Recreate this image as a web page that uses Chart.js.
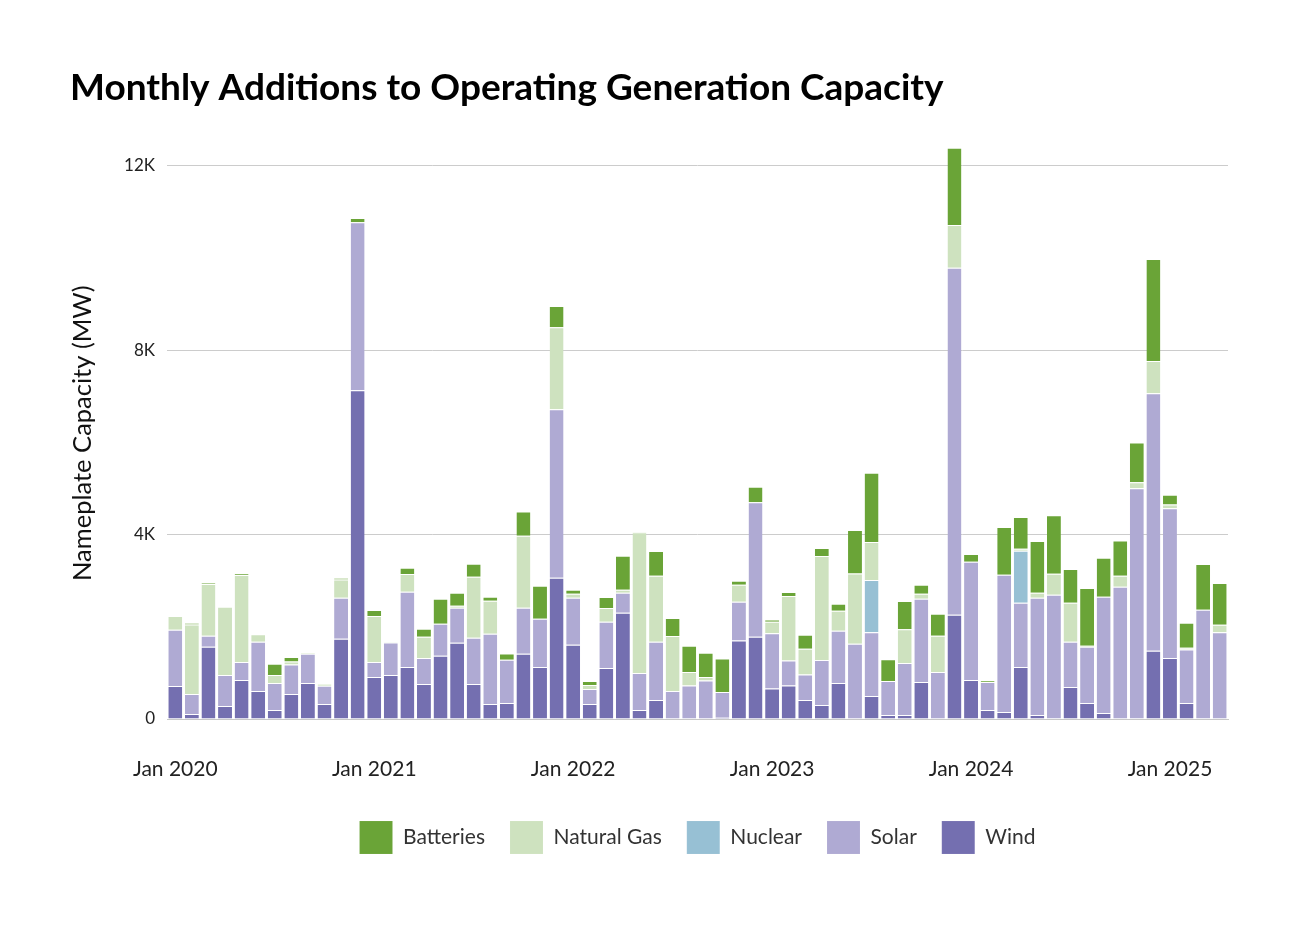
<!DOCTYPE html>
<html>
<head>
<meta charset="utf-8">
<script src="https://cdn.jsdelivr.net/npm/chart.js@4"></script>
<style>
  body { margin: 0; background: #fff; }
  canvas { display: block; }
</style>
</head>
<body>
<canvas id="capacityChart" width="1302" height="929"></canvas>
<script>
// months Jan 2020 .. Apr 2025
const years = [2020, 2021, 2022, 2023, 2024, 2025];
const monthNames = ['Jan', 'Feb', 'Mar', 'Apr', 'May', 'Jun', 'Jul', 'Aug', 'Sep', 'Oct', 'Nov', 'Dec'];
const months = [];
years.forEach(y => monthNames.forEach(m => months.push(m + ' ' + y)));
months.length = 64;

// MW added per month
const wind = [
    717, 109, 1565, 283, 848, 609, 196, 543, 783, 326, 1739, 7130,
    913, 957, 1130, 761, 1370, 1652, 761, 326, 348, 1413, 1130, 3065,
    1609, 326, 1109, 2304, 196, 413, 0, 0, 0, 29, 1703, 1783,
    659, 725, 413, 304, 783, 0, 500, 87, 87, 804, 0, 2261,
    848, 196, 152, 1130, 87, 22, 696, 348, 130, 0, 22, 1478,
    1326, 348, 22, 0,
];
const solar = [
    1217, 435, 239, 674, 391, 1065, 587, 637, 630, 398, 891, 3646,
    326, 703, 1630, 565, 696, 761, 1000, 1522, 935, 1000, 1043, 3652,
    1022, 326, 1000, 435, 804, 1261, 609, 725, 833, 558, 841, 2920,
    1203, 543, 551, 978, 1130, 1630, 1384, 739, 1130, 1804, 1022, 7528,
    2565, 609, 2978, 1391, 2543, 2674, 978, 1217, 2522, 2870, 4985, 5587,
    3246, 1159, 2348, 1884,
];
const nuclear = [
    0, 0, 0, 0, 0, 0, 0, 0, 0, 0, 0, 0,
    0, 0, 0, 0, 0, 0, 0, 0, 0, 0, 0, 0,
    0, 0, 0, 0, 0, 0, 0, 0, 0, 0, 0, 0,
    0, 0, 0, 0, 0, 0, 1130, 0, 0, 0, 0, 0,
    0, 0, 0, 1130, 0, 0, 0, 0, 0, 0, 0, 0,
    0, 0, 0, 0,
];
const naturalGas = [
    298, 1507, 1123, 1478, 1884, 167, 174, 65, 22, 22, 398, 0,
    993, 15, 384, 457, 0, 43, 1326, 717, 0, 1565, 0, 1783,
    87, 87, 298, 65, 3051, 1435, 1189, 297, 80, 0, 370, 0,
    246, 1399, 558, 2254, 435, 1529, 826, 0, 732, 109, 783, 928,
    0, 0, 0, 43, 109, 457, 848, 22, 0, 239, 130, 703,
    80, 36, 0, 159,
];
const batteries = [
    0, 36, 29, 0, 29, 0, 239, 102, 0, 15, 29, 94,
    130, 0, 138, 174, 543, 283, 283, 87, 137, 522, 717, 457,
    87, 87, 239, 739, 15, 537, 391, 565, 522, 725, 87, 335,
    51, 87, 304, 174, 152, 942, 1500, 471, 609, 196, 478, 1674,
    167, 29, 1037, 689, 1123, 1268, 732, 1254, 848, 761, 863, 2210,
    211, 543, 993, 906,
];

const yTicks = [0, 4000, 8000, 12000];

const fontFamily = 'Lato, "Noto Sans", sans-serif';

function bars(label, data, color) {
    return {
        label: label,
        data: data,
        backgroundColor: color,
        borderColor: 'rgba(255, 255, 255, 0.35)',
        borderWidth: { top: 1 },
        categoryPercentage: 1,
        barPercentage: 0.84,
    };
}

// keep the legend centred under the plot, not the whole canvas
const centerLegend = {
    id: 'centerLegend',
    afterLayout(chart) {
        const legend = chart.legend;
        const mid = (chart.chartArea.left + chart.chartArea.right) / 2;
        const shift = mid - (legend.left + legend.right) / 2;
        legend.left += shift;
        legend.right += shift;
    },
};

const ctx = document.getElementById('capacityChart').getContext('2d');
new Chart(ctx, {
    type: 'bar',
    data: {
        labels: months,
        datasets: [
            bars('Wind', wind, '#746fb0'),
            bars('Solar', solar, '#afaad3'),
            bars('Nuclear', nuclear, '#97c0d4'),
            bars('Natural Gas', naturalGas, '#cee2bf'),
            bars('Batteries', batteries, '#6aa437'),
        ],
    },
    plugins: [centerLegend],
    options: {
        responsive: false,
        animation: false,
        layout: {
            padding: { left: 70, right: 74, top: 66, bottom: 65 },
        },
        scales: {
            x: {
                stacked: true,
                grid: { display: false, drawTicks: false },
                border: { color: '#c8c8c8' },
                afterFit: axis => { axis.height = 77; },
                ticks: {
                    autoSkip: false,
                    maxRotation: 0,
                    padding: 38,
                    color: '#222',
                    font: { family: fontFamily, size: 21 },
                    callback: (v, i) => (i % 12 === 0 ? months[i] : ''),
                },
            },
            y: {
                stacked: true,
                min: 0,
                max: 12400,
                afterBuildTicks: axis => {
                    axis.ticks = yTicks.map(v => ({ value: v }));
                },
                afterFit: axis => { axis.width = 97; },
                grid: { color: '#cccccc', drawTicks: false },
                border: { display: false },
                ticks: {
                    padding: 12,
                    color: '#222',
                    font: { family: fontFamily, size: 17 },
                    callback: v => (v === 0 ? '0' : v / 1000 + 'K'),
                },
                title: {
                    display: true,
                    text: 'Nameplate Capacity (MW)',
                    color: '#111',
                    font: { family: fontFamily, size: 25.5, lineHeight: 1 },
                    padding: { top: 0, bottom: 0 },
                },
            },
        },
        plugins: {
            title: {
                display: true,
                text: 'Monthly Additions to Operating Generation Capacity',
                align: 'start',
                color: '#000',
                font: { family: fontFamily, size: 37, weight: 'bold' },
                padding: { top: 0, bottom: 37 },
            },
            legend: {
                position: 'bottom',
                reverse: true,
                labels: {
                    boxWidth: 33,
                    boxHeight: 33,
                    padding: 25,
                    color: '#333',
                    font: { family: fontFamily, size: 21 },
                },
            },
            tooltip: { enabled: false },
        },
    },
});
</script>
</body>
</html>
